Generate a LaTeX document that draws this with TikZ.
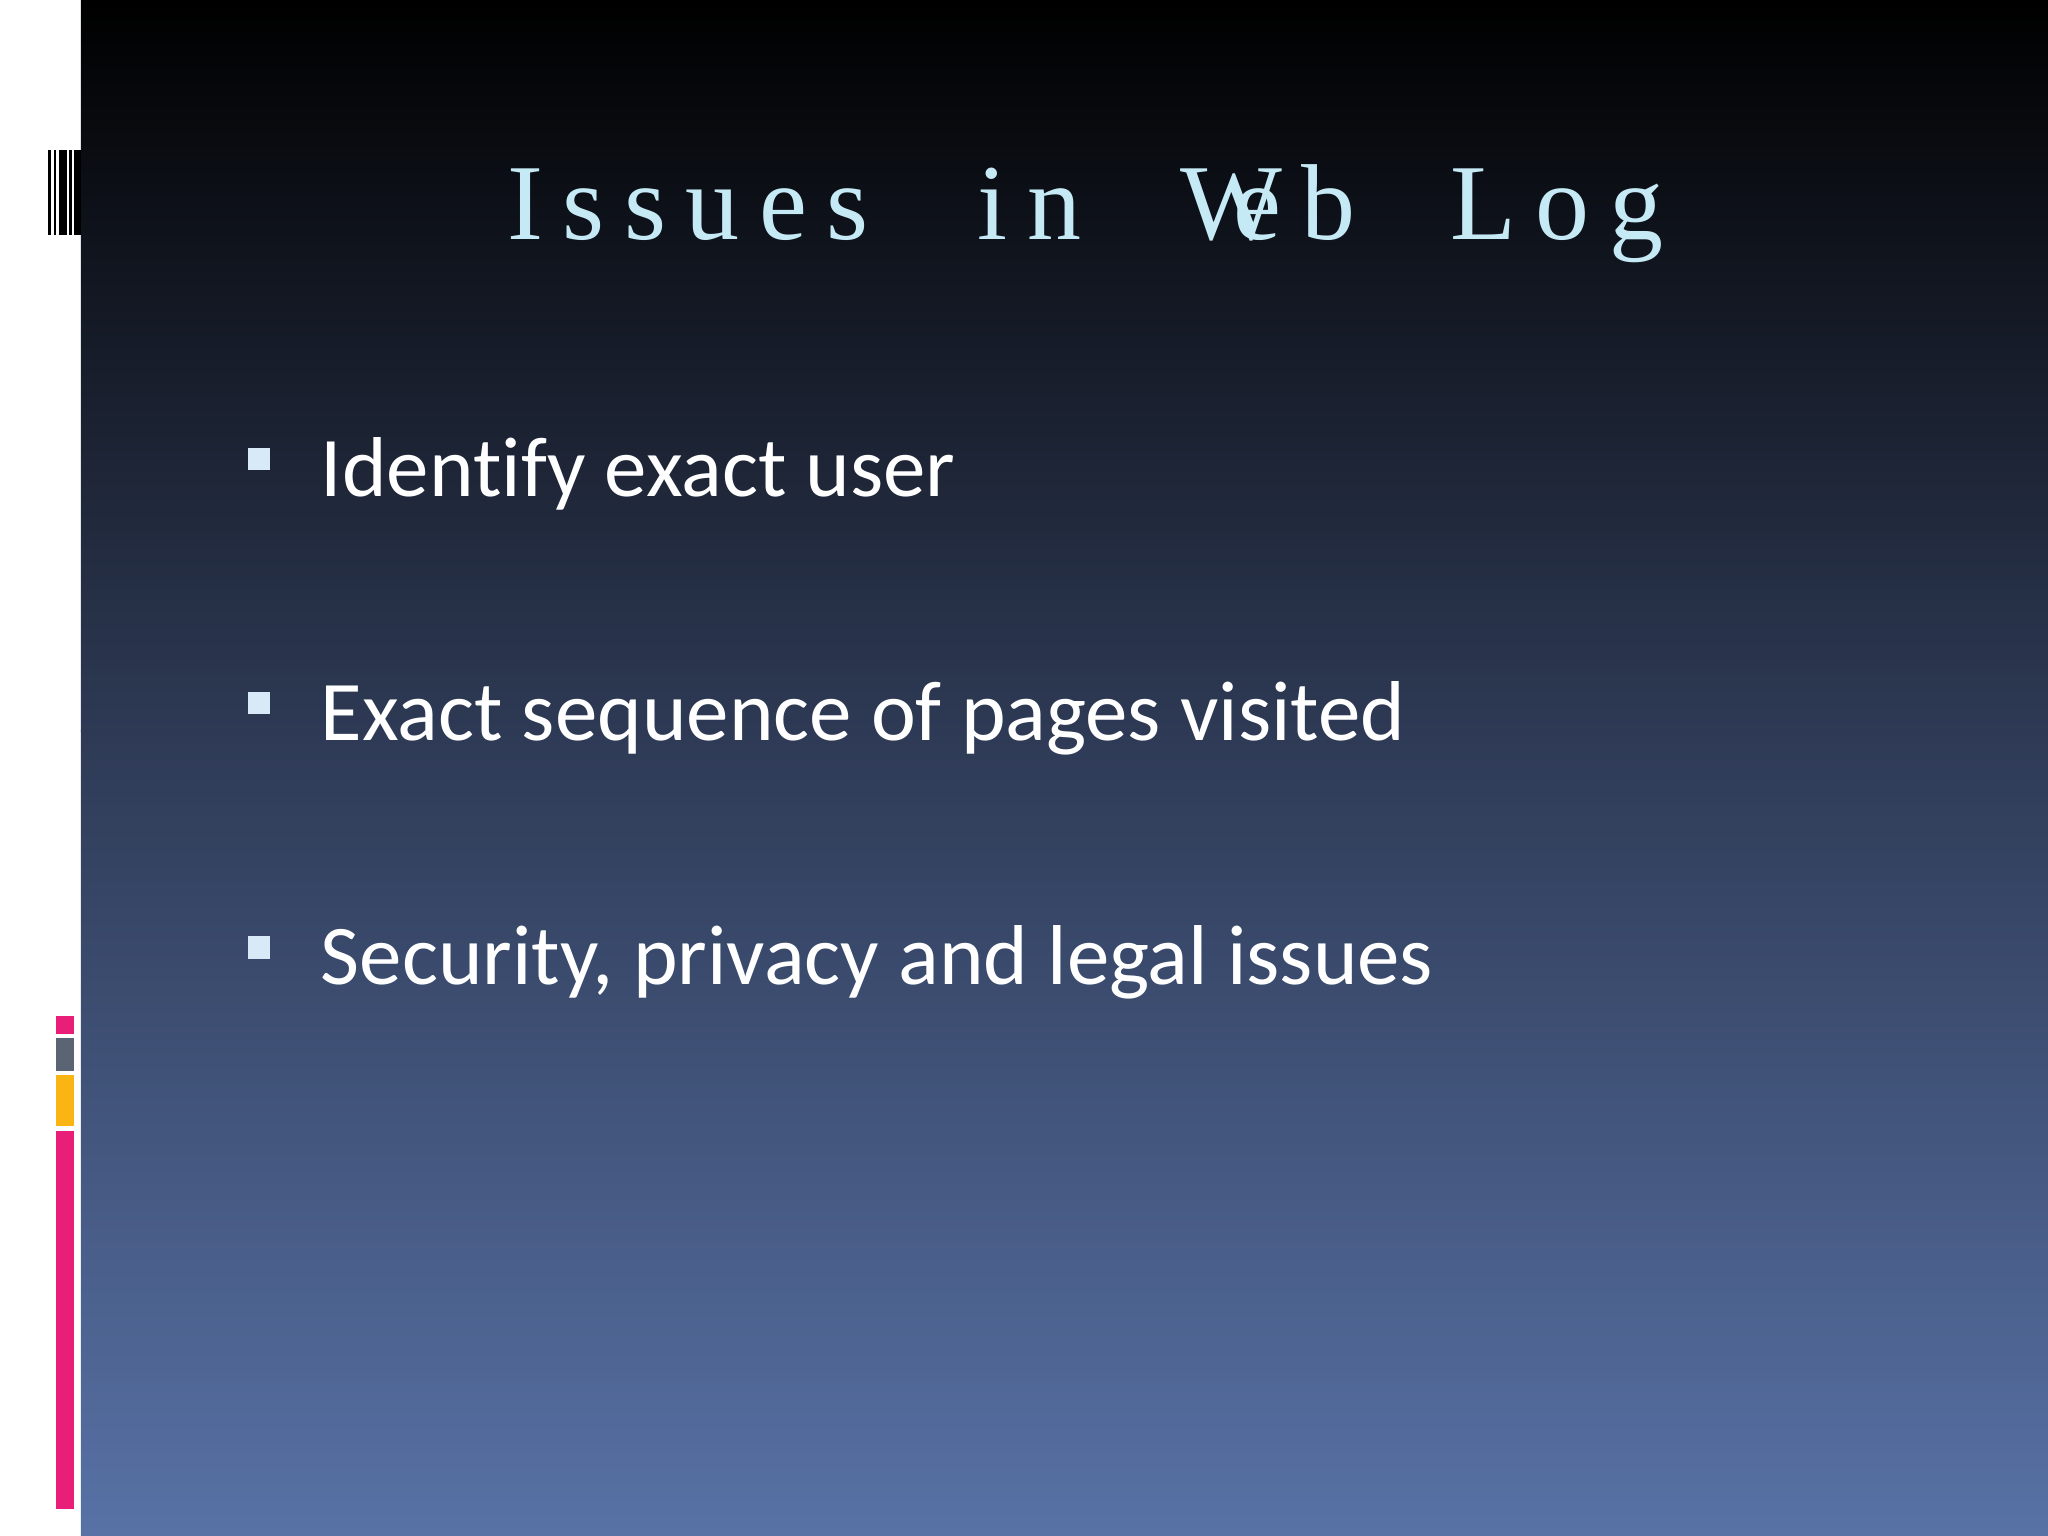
\documentclass[tikz,border=0pt]{standalone}
\usepackage{fontspec}
\setmainfont[Ligatures=NoCommon]{Carlito}
\newfontfamily\titlefont[LetterSpace=18]{Liberation Serif}
\definecolor{bulc}{RGB}{216,234,248}
\definecolor{midc}{RGB}{46,58,85}
\definecolor{botc}{RGB}{88,114,166}
\definecolor{pinkc}{RGB}{233,30,120}
\definecolor{grayc}{RGB}{90,100,115}
\definecolor{orc}{RGB}{250,180,20}
\definecolor{titc}{RGB}{197,234,245}
\begin{document}
\begin{tikzpicture}[x=0.01cm,y=-0.01cm,
  bul/.style={fill=bulc},
  tw/.style={anchor=base west,inner sep=0,text=titc,font=\titlefont\fontsize{23.5}{28}\selectfont},
  item/.style={anchor=base west,text=white,font=\fontsize{18.5}{22}\selectfont,inner sep=0}]
\useasboundingbox (0,0) rectangle (1568,1176);
\fill[white] (0,0) rectangle (62,1176);
\shade[top color=black,bottom color=midc] (62,0) rectangle (1568,560);
\shade[top color=midc,bottom color=botc] (62,559) rectangle (1568,1176);
% barcode
\fill[black] (37,115) rectangle (39,180);
\fill[black] (41,115) rectangle (43,180);
\fill[black] (45,115) rectangle (51,180);
\fill[black] (53,115) rectangle (55,180);
\fill[black] (57,115) rectangle (62,180);
% colored bars
\fill[pinkc] (43,778) rectangle (57,792);
\fill[grayc] (43,795) rectangle (57,820);
\fill[orc] (43,823) rectangle (57,862);
\fill[pinkc] (43,866) rectangle (57,1155);
\node[tw] (t1) at (388,183) {Issues};
\node[tw] (t2) at (748,183) {in};
\node[tw] (t3) at (903,183) {W\kern-0.45em eb};
\node[tw] (t4) at (1110,183) {Log};
\fill[bul] (190,343) rectangle (207,360);
\node[item] (i1) at (245,380) {Identify exact user};
\fill[bul] (190,530) rectangle (207,547);
\node[item] (i2) at (245,567) {Exact sequence of pages visited};
\fill[bul] (190,717) rectangle (207,734);
\node[item] (i3) at (245,754) {Security, privacy and legal issues};
\end{tikzpicture}
\end{document}
